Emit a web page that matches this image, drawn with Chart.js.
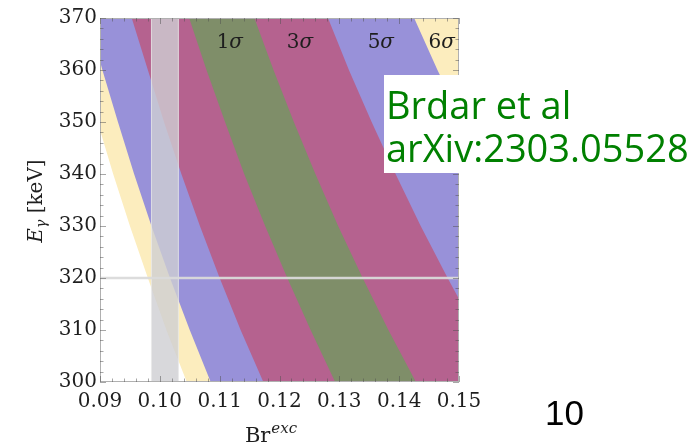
<!DOCTYPE html>
<html>
<head>
<meta charset="utf-8">
<script src="https://cdn.jsdelivr.net/npm/chart.js@4/dist/chart.umd.min.js"></script>
<style>
  html, body { margin: 0; padding: 0; background: #fff; overflow: hidden; }
  canvas { display: block; }
</style>
</head>
<body>
<canvas id="c" width="697" height="443"></canvas>
<script>
// Photon energy samples (keV) at which the band edges are given
const energies = [300, 310, 320, 330, 340, 350, 360, 370];

// Br^exc position of each confidence-band edge at those energies
const sixSigmaLow   = [0.1045, 0.1011, 0.0980, 0.0950, 0.0922, 0.0896, 0.0871, 0.0847];
const fiveSigmaLow  = [0.1085, 0.1050, 0.1017, 0.0986, 0.0957, 0.0930, 0.0904, 0.0880];
const threeSigmaLow = [0.1173, 0.1135, 0.1100, 0.1067, 0.1036, 0.1007, 0.0980, 0.0953];
const oneSigmaLow   = [0.1293, 0.1252, 0.1213, 0.1176, 0.1141, 0.1109, 0.1078, 0.1049];
const oneSigmaHigh  = [0.1428, 0.1382, 0.1339, 0.1298, 0.1260, 0.1224, 0.1190, 0.1158];
const threeSigmaHigh= [0.1579, 0.1528, 0.1481, 0.1436, 0.1394, 0.1354, 0.1316, 0.1281];
const fiveSigmaHigh = [0.1757, 0.1701, 0.1648, 0.1598, 0.1551, 0.1506, 0.1464, 0.1425];
const sixSigmaHigh  = [0.1950, 0.1887, 0.1828, 0.1773, 0.1721, 0.1671, 0.1625, 0.1581];

// Measured branching-ratio window and line energy
const brWindow = [0.0986, 0.1031];
const windowEnergies = [300, 370];
const lineEnergy = 320;
const lineBr = [0.09, 0.15];

// Axis tick labels
const xTickLabels = ['0.09', '0.10', '0.11', '0.12', '0.13', '0.14', '0.15'];
const yTickLabels = ['300', '310', '320', '330', '340', '350', '360', '370'];

// Band names written along the top
const bandNames = ['1σ', '3σ', '5σ', '6σ'];

const COLORS = {
  yellow: '#fcedbe',
  blue: '#9891d9',
  magenta: '#b5628f',
  green: '#7f8e69'
};

const toPoints = (brs, es) => brs.map((b, i) => ({ x: b, y: es[i] }));

function bandPair(lo, hi, color, order) {
  return [
    { data: toPoints(lo, energies), borderWidth: 0, pointRadius: 0, fill: false, order },
    { data: toPoints(hi, energies), borderWidth: 0, pointRadius: 0, fill: '-1', backgroundColor: color, order }
  ];
}

const datasets = [
  ...bandPair(oneSigmaLow, oneSigmaHigh, COLORS.green, 2),
  ...bandPair(threeSigmaLow, threeSigmaHigh, COLORS.magenta, 3),
  ...bandPair(fiveSigmaLow, fiveSigmaHigh, COLORS.blue, 4),
  ...bandPair(sixSigmaLow, sixSigmaHigh, COLORS.yellow, 5),
  { data: toPoints([brWindow[0], brWindow[0]], windowEnergies), borderWidth: 1,
    borderColor: 'rgba(232,232,232,0.8)', pointRadius: 0, fill: false, order: 1 },
  { data: toPoints([brWindow[1], brWindow[1]], windowEnergies), borderWidth: 1,
    borderColor: 'rgba(232,232,232,0.8)', pointRadius: 0, fill: '-1',
    backgroundColor: 'rgba(206,206,210,0.8)', order: 1 },
  { data: lineBr.map(b => ({ x: b, y: lineEnergy })), borderWidth: 2.5,
    borderColor: 'rgba(218,218,218,0.95)', pointRadius: 0, fill: false, order: 0 }
];

const isWhole = (v, step) => Math.abs(v / step - Math.round(v / step)) < 1e-6;

function xLabel(v) {
  const s = v.toFixed(2);
  return isWhole(v, 0.01) && xTickLabels.includes(s) ? s : '';
}
function yLabel(v) {
  const s = String(Math.round(v));
  return isWhole(v, 10) && yTickLabels.includes(s) ? s : '';
}

// Linear interpolation of a band edge at a given energy
function edgeAt(brs, e) {
  for (let i = 0; i < energies.length - 1; i++) {
    if (e >= energies[i] && e <= energies[i + 1]) {
      const t = (e - energies[i]) / (energies[i + 1] - energies[i]);
      return brs[i] + t * (brs[i + 1] - brs[i]);
    }
  }
  return brs[brs.length - 1];
}

const SERIF = '"DejaVu Serif", "Liberation Serif", serif';

const decor = {
  id: 'decor',
  afterDatasetsDraw(chart) {
    const { ctx, chartArea: a, scales: { x, y } } = chart;
    ctx.save();

    // frame
    ctx.strokeStyle = '#b0b0b0';
    ctx.lineWidth = 1;
    ctx.strokeRect(a.left + 0.5, a.top + 0.5, a.right - a.left - 1, a.bottom - a.top - 1);

    // inward ticks on all four sides
    ctx.strokeStyle = 'rgba(80,80,80,0.5)';
    ctx.beginPath();
    x.ticks.forEach(t => {
      const px = Math.round(x.getPixelForValue(t.value)) + 0.5;
      const len = isWhole(t.value, 0.01) ? 6 : 3.5;
      ctx.moveTo(px, a.bottom); ctx.lineTo(px, a.bottom - len);
      ctx.moveTo(px, a.top); ctx.lineTo(px, a.top + len);
    });
    y.ticks.forEach(t => {
      const py = Math.round(y.getPixelForValue(t.value)) + 0.5;
      const len = isWhole(t.value, 10) ? 6 : 3.5;
      ctx.moveTo(a.left, py); ctx.lineTo(a.left + len, py);
      ctx.moveTo(a.right, py); ctx.lineTo(a.right - len, py);
    });
    ctx.stroke();

    // band names near the top of each band
    const labelY = a.top + 30;
    const eLab = y.getValueForPixel(a.top + 23);
    const edges = [
      [oneSigmaLow, oneSigmaHigh],
      [oneSigmaHigh, threeSigmaHigh],
      [threeSigmaHigh, fiveSigmaHigh],
      [fiveSigmaHigh, sixSigmaHigh]
    ];
    ctx.fillStyle = '#1e1e1e';
    ctx.textBaseline = 'alphabetic';
    bandNames.forEach((name, i) => {
      const lo = Math.max(x.min, edgeAt(edges[i][0], eLab));
      const hi = Math.min(x.max, edgeAt(edges[i][1], eLab));
      const cx = x.getPixelForValue((lo + hi) / 2);
      const num = name.slice(0, -1), sig = name.slice(-1);
      ctx.font = '20px ' + SERIF;
      const w1 = ctx.measureText(num).width;
      ctx.font = 'italic 20px ' + SERIF;
      const w2 = ctx.measureText(sig).width;
      const x0 = cx - (w1 + w2) / 2;
      ctx.font = '20px ' + SERIF;
      ctx.fillText(num, x0, labelY);
      ctx.font = 'italic 20px ' + SERIF;
      ctx.fillText(sig, x0 + w1, labelY);
    });
    ctx.restore();
  },
  afterDraw(chart) {
    const { ctx, chartArea: a } = chart;
    ctx.save();

    // y axis title: E_γ [keV]
    ctx.fillStyle = '#1e1e1e';
    ctx.translate(42, (a.top + a.bottom) / 2 + 1);
    ctx.rotate(-Math.PI / 2);
    ctx.textBaseline = 'alphabetic';
    const fE = 'italic 20px ' + SERIF, fSub = 'italic 14px ' + SERIF, fU = '20px ' + SERIF;
    ctx.font = fE; const wE = ctx.measureText('E').width;
    ctx.font = fSub; const wG = ctx.measureText('γ').width;
    ctx.font = fU; const wU = ctx.measureText(' [keV]').width;
    let cx = -(wE + wG + wU) / 2;
    ctx.font = fE; ctx.fillText('E', cx, 0); cx += wE;
    ctx.font = fSub; ctx.fillText('γ', cx, 4); cx += wG;
    ctx.font = fU; ctx.fillText(' [keV]', cx, 0);
    ctx.restore();

    // x axis title: Br^exc
    ctx.save();
    ctx.fillStyle = '#1e1e1e';
    ctx.textBaseline = 'alphabetic';
    ctx.font = '21px ' + SERIF;
    const wBr = ctx.measureText('Br').width;
    ctx.font = 'italic 15px ' + SERIF;
    const wExc = ctx.measureText('exc').width;
    const bx = (a.left + a.right) / 2 - 9 - (wBr + wExc) / 2;
    ctx.font = '21px ' + SERIF;
    ctx.fillText('Br', bx, 442);
    ctx.font = 'italic 15px ' + SERIF;
    ctx.fillText('exc', bx + wBr + 1, 433);

    // reference box
    ctx.fillStyle = '#ffffff';
    ctx.fillRect(384, 75, 697 - 384, 98);
    ctx.fillStyle = '#008000';
    ctx.font = '38px "Open Sans", "DejaVu Sans", sans-serif';
    ctx.fillText('Brdar et al', 386, 119);
    ctx.fillText('arXiv:2303.05528', 386, 162);

    // page number
    ctx.fillStyle = '#000000';
    ctx.font = '35px "Liberation Sans", Arial, sans-serif';
    ctx.fillText('10', 545, 425);
    ctx.restore();
  }
};

new Chart(document.getElementById('c'), {
  type: 'line',
  data: { datasets },
  options: {
    indexAxis: 'y',
    responsive: false,
    animation: false,
    events: [],
    layout: { padding: { top: 18, right: 238, left: 0, bottom: 0 } },
    plugins: {
      legend: { display: false },
      tooltip: { enabled: false },
      filler: { propagate: false }
    },
    elements: { point: { radius: 0 }, line: { tension: 0 } },
    scales: {
      x: {
        type: 'linear', position: 'bottom', min: 0.09, max: 0.15,
        grid: { display: false, drawTicks: false },
        border: { display: false },
        ticks: {
          stepSize: 0.002, autoSkip: false, maxRotation: 0, minRotation: 0,
          padding: 8, color: '#1e1e1e',
          font: { family: SERIF, size: 20 },
          callback: v => xLabel(v)
        },
        afterFit: s => { s.height = 61; }
      },
      y: {
        type: 'linear', position: 'left', min: 300, max: 370,
        grid: { display: false, drawTicks: false },
        border: { display: false },
        ticks: {
          stepSize: 2, autoSkip: false, padding: 3, color: '#1e1e1e',
          font: { family: SERIF, size: 20 },
          callback: v => yLabel(v)
        },
        afterFit: s => { s.width = 100; }
      }
    }
  },
  plugins: [decor]
});
</script>
</body>
</html>
